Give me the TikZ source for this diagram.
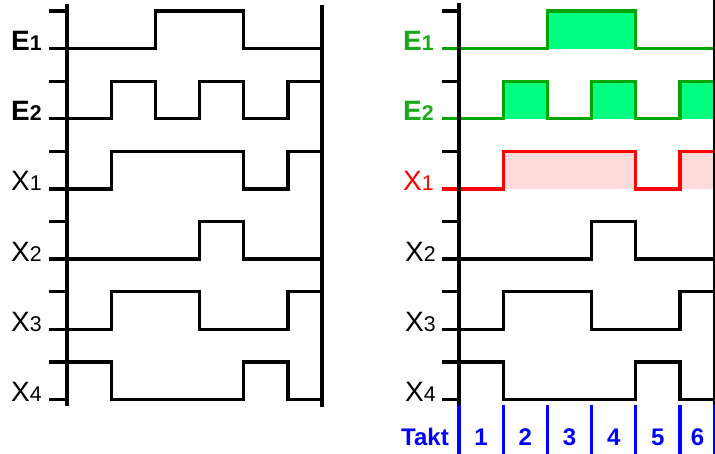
\documentclass[tikz,border=0pt]{standalone}
\usepackage{fontspec}
\setmainfont{Liberation Sans}
\definecolor{sigline}{RGB}{0,165,0}
\definecolor{siglab}{RGB}{25,170,25}
\definecolor{sigfill}{RGB}{0,255,128}
\definecolor{sigred}{RGB}{255,0,0}
\definecolor{redfill}{RGB}{255,218,218}
\definecolor{taktblue}{RGB}{0,0,255}
\newcommand\sigidx[1]{{\fontsize{16}{16}\selectfont #1}}
\tikzset{
  wave/.style={line width=2.5pt, line join=miter},
  tickmark/.style={line width=2.5pt},
  axisline/.style={line width=2.5pt},
  taktline/.style={line width=2.4pt, taktblue},
  sig/.style={anchor=base east, inner sep=0pt, font=\fontsize{21}{21}\selectfont},
  taktnum/.style={anchor=base, inner sep=0pt, text=taktblue, font=\bfseries\fontsize{18}{18}\selectfont},
}

\begin{document}
\begin{tikzpicture}[x=0.75pt,y=-0.75pt]
    \useasboundingbox (0,0) rectangle (715,454);

    % fills of the right panel
    \fill[sigfill] (547.4,48.5) rectangle (635.8,11);
    \foreach \i in {1,3,5}
        \fill[sigfill] ({459+\i*44.2},118.7) rectangle ({min(459+(\i+1)*44.2,715)},81.2);
    \fill[redfill] (503.2,188.9) rectangle (635.8,151.4);
    \fill[redfill] (680,188.9) rectangle (715,151.4);

    % left panel
    \foreach \lev [count=\r from 0] in {{0,0,1,1,0,0},{0,1,0,1,0,1},{0,1,1,1,0,1},{0,0,0,1,0,0},{0,1,1,0,0,1},{1,0,0,0,1,0}} {
        \pgfmathsetmacro\yl{48.5+70.2*\r}
        \draw[tickmark] (49,\yl-37.5) -- (67,\yl-37.5);
        \draw[wave] (49,\yl) -- (67,\yl)
            \foreach \v [count=\i] in \lev {
                -- ({67+(\i-1)*44.2},{\yl-37.5*\v}) -- ({min(67+\i*44.2,322)},{\yl-37.5*\v})
            };
    }

    % right panel
    \foreach \lev/\col [count=\r from 0] in {{0,0,1,1,0,0}/sigline,{0,1,0,1,0,1}/sigline,{0,1,1,1,0,1}/sigred,{0,0,0,1,0,0}/black,{0,1,1,0,0,1}/black,{1,0,0,0,1,0}/black} {
        \pgfmathsetmacro\yl{48.5+70.2*\r}
        \draw[tickmark] (442,\yl-37.5) -- (459,\yl-37.5);
        \draw[wave,\col] (442,\yl) -- (459,\yl)
            \foreach \v [count=\i] in \lev {
                -- ({459+(\i-1)*44.2},{\yl-37.5*\v}) -- ({min(459+\i*44.2,715)},{\yl-37.5*\v})
            };
    }

    % axes
    \draw[axisline] (67,4) -- (67,406);
    \draw[axisline] (322,5) -- (322,407);
    \draw[axisline] (459,3) -- (459,405);
    \draw[axisline] (715,0) -- (715,405);

    % Takt
    \foreach \k in {0,...,5}
        \draw[taktline] ({459+\k*44.2},405) -- ++(0,49);
    \draw[taktline] (715,405) -- (715,454);
    \node[taktnum] (takt) at (425,445) {Takt};
    \foreach \k in {1,...,6}
        \node[taktnum] (t\k) at ({(459+(\k-1)*44.2+min(459+\k*44.2,715))/2},445) {\k};

    % labels
    \node[sig] (lE1) at (42,50.5) {\textbf{E}\sigidx{\textbf{1}}};
    \node[sig] (lE2) at (42,120.7) {\textbf{E}\sigidx{\textbf{2}}};
    \node[sig] (lX1) at (42,190.9) {X\sigidx{1}};
    \node[sig] (lX2) at (42,261.1) {X\sigidx{2}};
    \node[sig] (lX3) at (42,331.3) {X\sigidx{3}};
    \node[sig] (lX4) at (42,401.5) {X\sigidx{4}};
    \node[sig,text=siglab] (rE1) at (434,50.5) {\textbf{E}\sigidx{\textbf{1}}};
    \node[sig,text=siglab] (rE2) at (434,120.7) {\textbf{E}\sigidx{\textbf{2}}};
    \node[sig,text=sigred] (rX1) at (434,190.9) {X\sigidx{1}};
    \node[sig] (rX2) at (436,261.1) {X\sigidx{2}};
    \node[sig] (rX3) at (436,331.3) {X\sigidx{3}};
    \node[sig] (rX4) at (436,401.5) {X\sigidx{4}};
\end{tikzpicture}
\end{document}
